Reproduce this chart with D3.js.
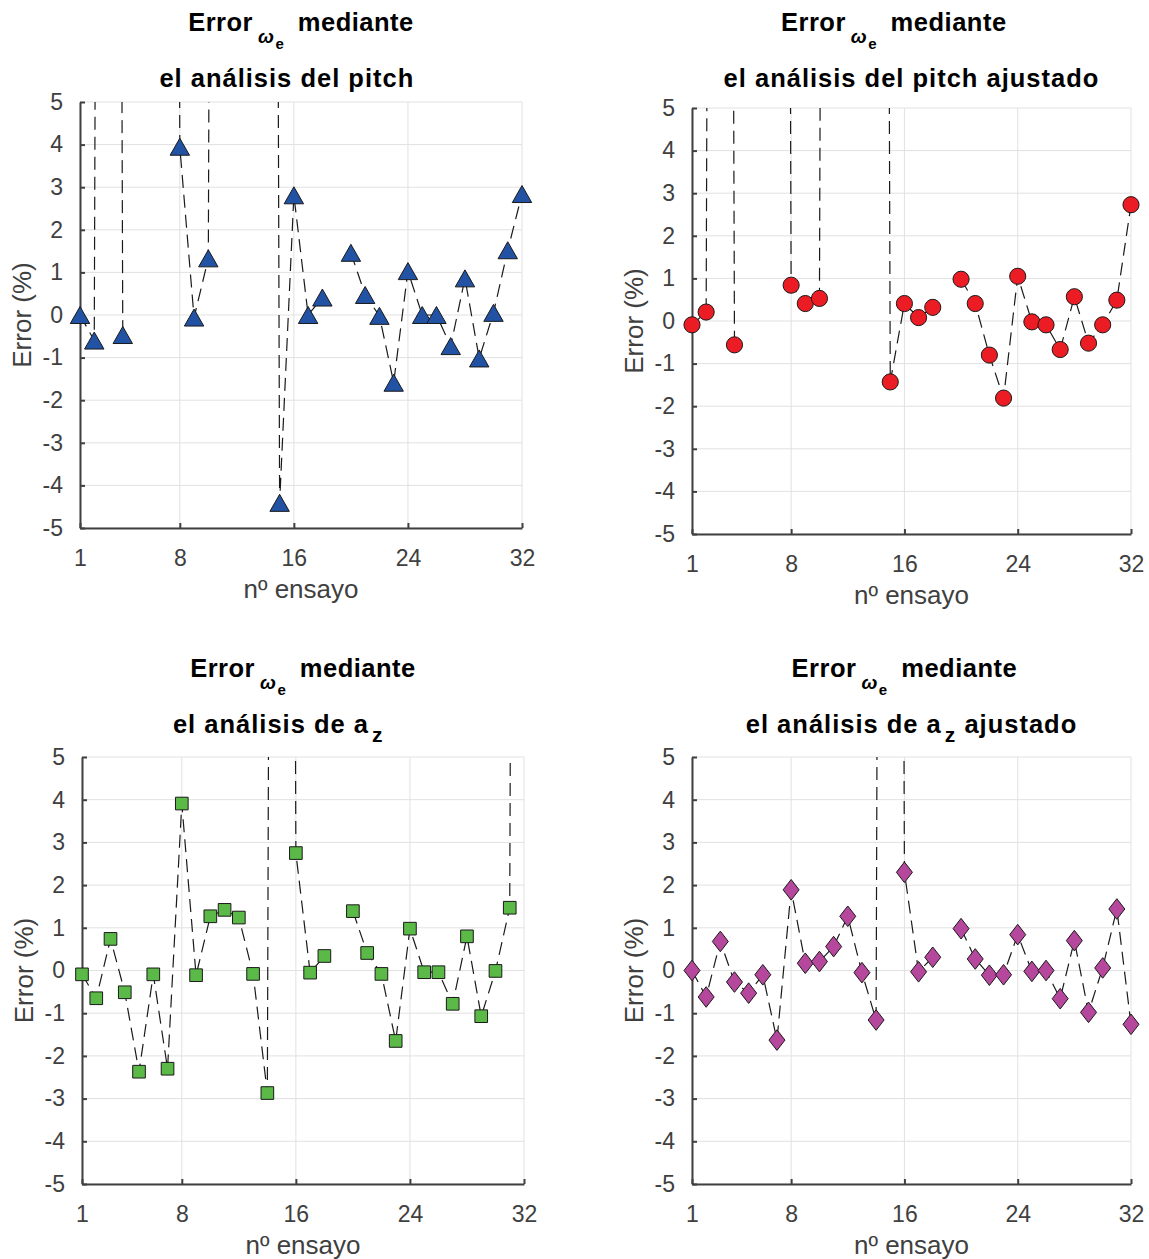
<!DOCTYPE html>
<html>
<head>
<meta charset="utf-8">
<script src="https://cdn.jsdelivr.net/npm/d3@7"></script>
<style>
  body { margin: 0; background: #fff; }
  text { font-family: "Liberation Sans", Arial, Helvetica, sans-serif; }
</style>
</head>
<body>
<svg id="chart" width="1149" height="1259"></svg>
<script>
// nº de ensayo
var ensayos = [1, 2, 3, 4, 5, 6, 7, 8, 9, 10, 11, 12, 13, 14, 15, 16,
               17, 18, 19, 20, 21, 22, 23, 24, 25, 26, 27, 28, 29, 30, 31, 32];
var xTicks = [1, 8, 16, 24, 32];
var yTicks = [-5, -4, -3, -2, -1, 0, 1, 2, 3, 4, 5];

// error (%) - null = sin dato, valores grandes quedan fuera de la grafica
var errPitch = [0.0, -0.6, 100, -0.47, null, null, 100, 3.95, -0.06, 1.33, 100, null, null, 100, -4.41, 2.81,
                0.0, 0.41, null, 1.46, 0.47, -0.02, -1.59, 1.03, 0.0, 0.0, -0.73, 0.86, -1.02, 0.05, 1.52, 2.84];
var errPitchAjustado = [-0.09, 0.21, 100, -0.56, null, null, 100, 0.84, 0.41, 0.53, 100, null, null, 100, -1.43, 0.41,
                        0.08, 0.32, null, 0.98, 0.41, -0.80, -1.81, 1.05, -0.02, -0.09, -0.67, 0.57, -0.52, -0.09, 0.49, 2.73];
var errAz = [-0.09, -0.65, 0.74, -0.51, -2.37, -0.09, -2.30, 3.91, -0.11, 1.27, 1.42, 1.24, -0.08, -2.87, 100, 2.75,
             -0.05, 0.34, null, 1.39, 0.41, -0.08, -1.65, 0.98, -0.04, -0.04, -0.78, 0.80, -1.07, -0.01, 1.47, 100];
var errAzAjustado = [0.0, -0.62, 0.68, -0.27, -0.53, -0.10, -1.63, 1.89, 0.17, 0.21, 0.56, 1.27, -0.05, -1.16, 100, 2.30,
                     -0.03, 0.31, null, 0.98, 0.27, -0.11, -0.10, 0.84, -0.02, 0.0, -0.66, 0.70, -0.98, 0.06, 1.44, -1.26];

// custom markers (centered on bounding box, like matlab)
var triangleUp = {
    draw: function(ctx) {
        ctx.moveTo(0, -8.5); ctx.lineTo(9.7, 8.5); ctx.lineTo(-9.7, 8.5); ctx.closePath();
    }
};
var diamond = {
    draw: function(ctx) {
        ctx.moveTo(0, -10.3); ctx.lineTo(8, 0); ctx.lineTo(0, 10.3); ctx.lineTo(-8, 0); ctx.closePath();
    }
};

var panels = [
    { values: errPitch, left: 80, right: 522, top: 102, bottom: 528, titleY: 31,
      color: '#2152a3', symbol: triangleUp, size: 0,
      line1Pad: 0, line2: [['el análisis del pitch', 0]], line2Pad: 4 },
    { values: errPitchAjustado, left: 692, right: 1131, top: 108, bottom: 534, titleY: 31,
      color: '#ec1c24', symbol: d3.symbolCircle, size: 205,
      line1Pad: 5, line2: [['el análisis del pitch ajustado', 0]], line2Pad: 0 },
    { values: errAz, left: 82, right: 524, top: 757, bottom: 1184, titleY: 677,
      color: '#5bb947', symbol: d3.symbolSquare, size: 160,
      line1Pad: 0, line2: [['el análisis de a', 0], ['z', 1]], line2Pad: 7 },
    { values: errAzAjustado, left: 692, right: 1131, top: 757, bottom: 1184, titleY: 677,
      color: '#b5479c', symbol: diamond, size: 0,
      line1Pad: 2, line2: [['el análisis de a', 0], ['z', 1], [' ajustado', 2]], line2Pad: 0 }
];

var svg = d3.select('#chart');
var axisColor = '#404040';
var titleSize = 25.5, space = 0.278 * titleSize;

panels.forEach(function(p, k) {
    var x = d3.scaleLinear().domain([1, 32]).range([p.left, p.right]);
    var y = d3.scaleLinear().domain([-5, 5]).range([p.bottom, p.top]);
    var g = svg.append('g');

    // grid
    g.selectAll('.gy').data(yTicks).enter().append('line')
        .attr('x1', p.left).attr('x2', p.right)
        .attr('y1', function(d) { return y(d); }).attr('y2', function(d) { return y(d); })
        .attr('stroke', '#e1e1e1').attr('stroke-width', 1);
    g.selectAll('.gx').data(xTicks).enter().append('line')
        .attr('y1', p.top).attr('y2', p.bottom)
        .attr('x1', function(d) { return x(d); }).attr('x2', function(d) { return x(d); })
        .attr('stroke', '#e1e1e1').attr('stroke-width', 1);

    // axes (ticks inward), hyphen minus like matlab
    var fmt = function(d) { return String(d); };
    var yAxis = g.append('g').attr('transform', 'translate(' + p.left + ',0)')
        .call(d3.axisLeft(y).tickValues(yTicks).tickFormat(fmt).tickSizeInner(-5).tickSizeOuter(0).tickPadding(17));
    var xAxis = g.append('g').attr('transform', 'translate(0,' + p.bottom + ')')
        .call(d3.axisBottom(x).tickValues(xTicks).tickFormat(fmt).tickSizeInner(-5).tickSizeOuter(0).tickPadding(22));
    [yAxis, xAxis].forEach(function(a) {
        a.select('.domain').attr('stroke', axisColor).attr('stroke-width', 2);
        a.selectAll('.tick line').attr('stroke', axisColor).attr('stroke-width', 2);
        a.selectAll('.tick text').attr('fill', axisColor).style('font-size', '23px')
            .style('font-family', '"Liberation Sans", Arial, sans-serif');
    });

    // labels
    g.append('text')
        .attr('transform', 'translate(' + (p.left - 58) + ',' + ((p.top + p.bottom) / 2) + ') rotate(-90)')
        .attr('text-anchor', 'middle').attr('dy', '0.35em')
        .attr('fill', axisColor).style('font-size', '26px').text('Error (%)');
    g.append('text')
        .attr('x', (p.left + p.right) / 2).attr('y', p.bottom + 61)
        .attr('text-anchor', 'middle').attr('dy', '0.35em')
        .attr('fill', axisColor).style('font-size', '26px').text('nº ensayo');

    // title, line 1: Error_{\omega_e} mediante
    var cx = (p.left + p.right) / 2;
    var t1 = g.append('text').attr('x', cx - p.line1Pad * space / 2).attr('y', p.titleY)
        .attr('text-anchor', 'middle').attr('font-weight', 'bold').attr('fill', '#000')
        .style('font-size', titleSize + 'px').style('letter-spacing', '0.5px');
    t1.append('tspan').text('Error');
    t1.append('tspan').attr('dx', 5).attr('dy', 12).style('font-size', '19px')
        .attr('font-style', 'italic').text('ω');
    t1.append('tspan').attr('dx', 1).attr('dy', 6).style('font-size', '15px').text('e');
    t1.append('tspan').attr('dx', 6).attr('dy', -18).style('font-size', titleSize + 'px').text(' mediante');

    // title, line 2
    var t2 = g.append('text').attr('x', cx - p.line2Pad * space / 2).attr('y', p.titleY + 56)
        .attr('text-anchor', 'middle').attr('font-weight', 'bold').attr('fill', '#000')
        .style('font-size', titleSize + 'px').style('letter-spacing', '1px');
    p.line2.forEach(function(part) {
        var ts = t2.append('tspan').text(part[0]);
        if (part[1] === 1) ts.attr('dx', 3).attr('dy', 9).style('font-size', '21px');
        if (part[1] === 2) ts.attr('dy', -9).style('font-size', titleSize + 'px');
    });

    // data
    var pts = ensayos.map(function(e, i) { return { x: e, v: p.values[i] }; });
    svg.append('clipPath').attr('id', 'clip' + k).append('rect')
        .attr('x', p.left).attr('y', p.top).attr('width', p.right - p.left).attr('height', p.bottom - p.top);

    var line = d3.line()
        .defined(function(d) { return d.v !== null; })
        .x(function(d) { return x(d.x); })
        .y(function(d) { return y(d.v); });

    g.append('path').datum(pts)
        .attr('clip-path', 'url(#clip' + k + ')')
        .attr('d', line)
        .attr('fill', 'none').attr('stroke', '#1a1a1a').attr('stroke-width', 1.2)
        .attr('stroke-dasharray', '13,7');

    var sym = d3.symbol().type(p.symbol).size(p.size);
    g.selectAll('.mk').data(pts.filter(function(d) { return d.v !== null && d.v >= -5 && d.v <= 5; }))
        .enter().append('path')
        .attr('transform', function(d) { return 'translate(' + x(d.x) + ',' + y(d.v) + ')'; })
        .attr('d', sym)
        .attr('fill', p.color).attr('stroke', '#1a1a1a').attr('stroke-width', 1);
});
</script>
</body>
</html>
